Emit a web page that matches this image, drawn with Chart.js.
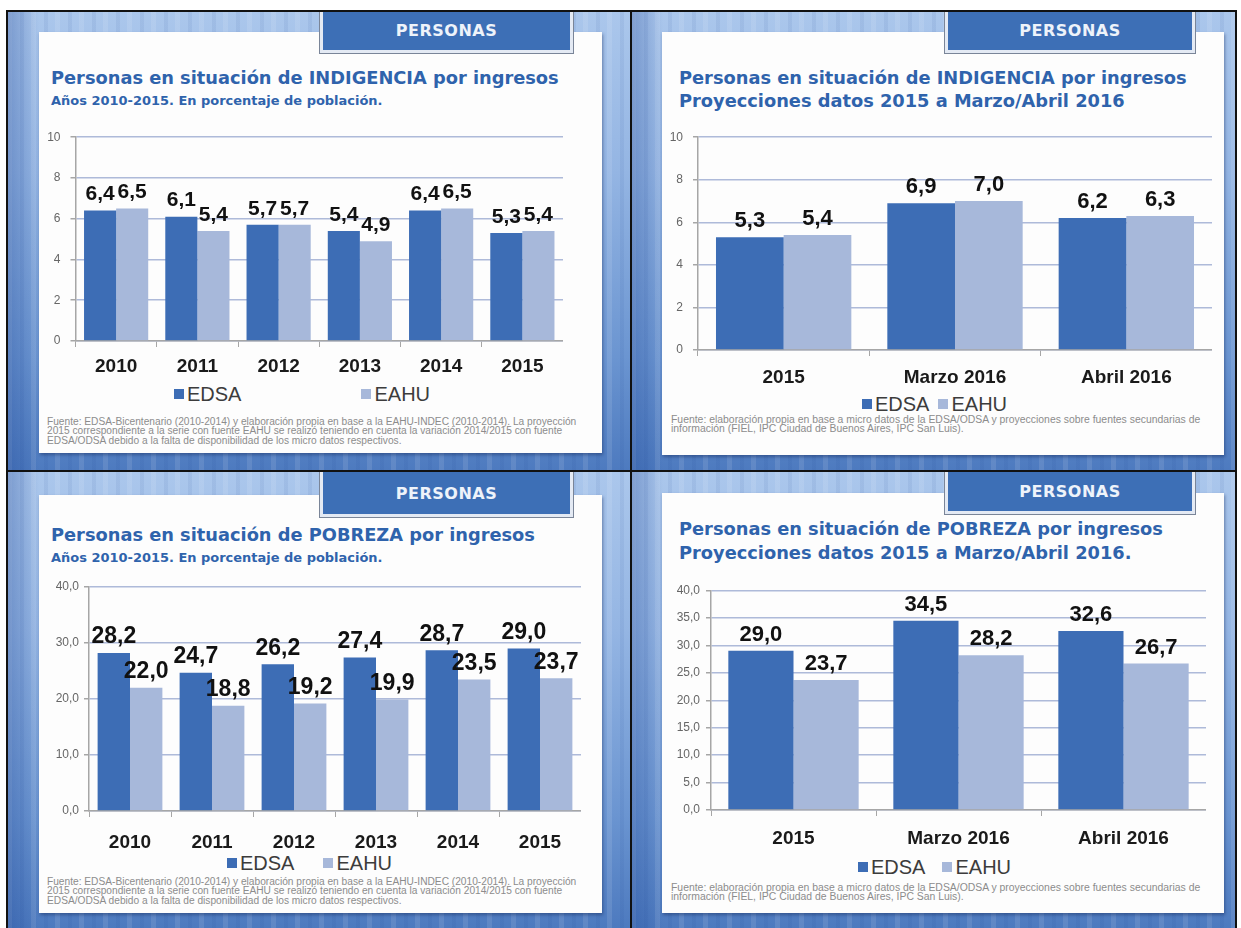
<!DOCTYPE html>
<html>
<head>
<meta charset="utf-8">
<title>Personas en situación de indigencia y pobreza por ingresos</title>
<script src="https://cdn.jsdelivr.net/npm/chart.js"></script>
<style>
    body {
        margin: 0;
        background: #ffffff;
        font-family: 'DejaVu Sans', sans-serif;
    }
    #page {
        position: relative;
        width: 1241px;
        height: 928px;
        overflow: hidden;
    }
    .quad {
        position: absolute;
        background:
            linear-gradient(to right, rgba(30, 70, 150, 0.35) 0, rgba(30, 70, 150, 0) 32px),
            repeating-linear-gradient(to right,
                rgba(255, 255, 255, 0.10) 0 5px,
                rgba(255, 255, 255, 0) 5px 13px,
                rgba(20, 60, 140, 0.07) 13px 17px,
                rgba(255, 255, 255, 0) 17px 24px),
            linear-gradient(to bottom, #abc7ec 0%, #94b5e3 35%, #6b95d1 75%, #4d7abf 100%);
    }
    .line { position: absolute; background: #111; }
    .panel {
        position: absolute;
        background: #fdfdfd;
        box-shadow: 1px 2px 3px rgba(20, 40, 90, 0.45);
    }
    .tab {
        position: absolute;
        box-sizing: border-box;
        background: #3d6fb6;
        border: 3px solid #e4eaf4;
        border-top: none;
        box-shadow: 0 0 0 1px #7a8598;
        color: #eef3fa;
        font-weight: bold;
        font-size: 16px;
        letter-spacing: 0.5px;
        display: flex;
        align-items: center;
        justify-content: center;
    }
    .title, .subtitle {
        position: absolute;
        white-space: nowrap;
        line-height: 1;
        color: #2f63ac;
        font-weight: bold;
        font-size: 18px;
    }
    .source {
        position: absolute;
        white-space: nowrap;
        line-height: 9.3px;
        font-size: 8px;
        font-family: 'Liberation Sans', sans-serif;
        color: #8c8c8c;
    }
    .legend {
        position: absolute;
        display: flex;
        align-items: center;
        font-family: 'Liberation Sans', sans-serif;
        font-size: 20px;
        line-height: 20px;
        color: #3c3c3c;
    }
    .legend .sw { width: 10px; height: 10px; margin-right: 3px; }
    canvas { position: absolute; }
</style>
</head>
<body>
<div id="page">
    <div class="quad" style="left:7px; top:11px; width:624px; height:461px;"></div>
    <div class="quad" style="left:631px; top:11px; width:605px; height:461px;"></div>
    <div class="quad" style="left:7px; top:472px; width:624px; height:456px;"></div>
    <div class="quad" style="left:631px; top:472px; width:605px; height:456px;"></div>

    <div class="panel" style="left:39px; top:32px; width:563px; height:421px;"></div>
    <div class="panel" style="left:662px; top:32px; width:562px; height:423px;"></div>
    <div class="panel" style="left:39px; top:495px; width:563px; height:418px;"></div>
    <div class="panel" style="left:662px; top:493px; width:562px; height:420px;"></div>

    <div class="tab" style="left:320px; top:11px; width:253px; height:42px;">PERSONAS</div>
    <div class="tab" style="left:945px; top:11px; width:250px; height:42px;">PERSONAS</div>
    <div class="tab" style="left:320px; top:472px; width:253px; height:45px;">PERSONAS</div>
    <div class="tab" style="left:945px; top:472px; width:250px; height:42px;">PERSONAS</div>

    <div class="line" style="left:6px; top:10px; width:1231px; height:2px;"></div>
    <div class="line" style="left:6px; top:10px; width:2px; height:918px;"></div>
    <div class="line" style="left:1235px; top:10px; width:2px; height:918px;"></div>
    <div class="line" style="left:630px; top:10px; width:2px; height:918px;"></div>
    <div class="line" style="left:6px; top:470px; width:1231px; height:2px;"></div>

    <!-- textos de cada lámina -->
    <div class="title" id="t1" data-cy="78" style="left:51px;">Personas en situación de INDIGENCIA por ingresos</div>
    <div class="subtitle" id="s1" data-cy="100" style="left:51px; font-size:13px;">Años 2010-2015. En porcentaje de población.</div>
    <div class="title" id="t2" data-cy="78" style="left:679px;">Personas en situación de INDIGENCIA por ingresos</div>
    <div class="subtitle" id="s2" data-cy="101" style="left:679px;">Proyecciones datos 2015 a Marzo/Abril 2016</div>
    <div class="title" id="t3" data-cy="535" style="left:51px;">Personas en situación de POBREZA por ingresos</div>
    <div class="subtitle" id="s3" data-cy="557" style="left:51px; font-size:13px;">Años 2010-2015. En porcentaje de población.</div>
    <div class="title" id="t4" data-cy="529" style="left:679px;">Personas en situación de POBREZA por ingresos</div>
    <div class="subtitle" id="s4" data-cy="553" style="left:679px;">Proyecciones datos 2015 a Marzo/Abril 2016.</div>

    <div class="source" id="f1" style="left:47px; top:417px;">Fuente: EDSA-Bicentenario (2010-2014) y elaboración propia en base a la EAHU-INDEC (2010-2014). La proyección<br>2015 correspondiente a la serie con fuente EAHU se realizó teniendo en cuenta la variación 2014/2015 con fuente<br>EDSA/ODSA debido a la falta de disponibilidad de los micro datos respectivos.</div>
    <div class="source" id="f2" style="left:671px; top:415px;">Fuente: elaboración propia en base a micro datos de la EDSA/ODSA y proyecciones sobre fuentes secundarias de<br>información (FIEL, IPC Ciudad de Buenos Aires, IPC San Luis).</div>
    <div class="source" id="f3" style="left:47px; top:877px;">Fuente: EDSA-Bicentenario (2010-2014) y elaboración propia en base a la EAHU-INDEC (2010-2014). La proyección<br>2015 correspondiente a la serie con fuente EAHU se realizó teniendo en cuenta la variación 2014/2015 con fuente<br>EDSA/ODSA debido a la falta de disponibilidad de los micro datos respectivos.</div>
    <div class="source" id="f4" style="left:671px; top:883px;">Fuente: elaboración propia en base a micro datos de la EDSA/ODSA y proyecciones sobre fuentes secundarias de<br>información (FIEL, IPC Ciudad de Buenos Aires, IPC San Luis).</div>

    <div class="legend" id="l1" data-gap="120" style="left:174px; top:384px;"></div>
    <div class="legend" id="l2" data-gap="9" style="left:862px; top:394px;"></div>
    <div class="legend" id="l3" data-gap="29" style="left:227px; top:853px;"></div>
    <div class="legend" id="l4" data-gap="17" style="left:858px; top:857px;"></div>

    <canvas id="c1" width="523" height="261" style="left:40px; top:120px;"></canvas>
    <canvas id="c2" width="552" height="270" style="left:660px; top:120px;"></canvas>
    <canvas id="c3" width="536" height="279" style="left:45px; top:572px;"></canvas>
    <canvas id="c4" width="530" height="275" style="left:676px; top:575px;"></canvas>
</div>

<script>
    const years = ['2010', '2011', '2012', '2013', '2014', '2015'];
    const periods = ['2015', 'Marzo 2016', 'Abril 2016'];
    const seriesNames = ['EDSA', 'EAHU'];

    const indigenciaEDSA = [6.4, 6.1, 5.7, 5.4, 6.4, 5.3];
    const indigenciaEAHU = [6.5, 5.4, 5.7, 4.9, 6.5, 5.4];
    const indigenciaProyEDSA = [5.3, 6.9, 6.2];
    const indigenciaProyEAHU = [5.4, 7.0, 6.3];

    const pobrezaEDSA = [28.2, 24.7, 26.2, 27.4, 28.7, 29.0];
    const pobrezaEAHU = [22.0, 18.8, 19.2, 19.9, 23.5, 23.7];
    const pobrezaProyEDSA = [29.0, 34.5, 32.6];
    const pobrezaProyEAHU = [23.7, 28.2, 26.7];

    const indigenciaTicks = ['0', '2', '4', '6', '8', '10'];
    const pobrezaTicks = ['0,0', '10,0', '20,0', '30,0', '40,0'];
    const pobrezaProyTicks = ['0,0', '5,0', '10,0', '15,0', '20,0', '25,0', '30,0', '35,0', '40,0'];

    const seriesColors = ['#3d6db5', '#a7b8da'];

    // ajuste del tamaño de los títulos al ancho que tienen en la lámina
    function setSize(el, fs) {
        el.style.fontSize = fs + 'px';
        if (el.dataset.cy) el.style.top = (el.dataset.cy - fs / 2) + 'px';
    }
    function fitText(el, target) {
        const fs = parseFloat(getComputedStyle(el).fontSize);
        const w = el.getBoundingClientRect().width;
        const nfs = fs * target / w;
        setSize(el, nfs);
        return nfs;
    }
    const titleSize = fitText(document.getElementById('t1'), 508);
    ['t2', 't3', 't4', 's2', 's4'].forEach(id => setSize(document.getElementById(id), titleSize));
    const subSize = fitText(document.getElementById('s1'), 332);
    setSize(document.getElementById('s3'), subSize);
    ['f1', 'f2', 'f3', 'f4'].forEach(id => fitText(document.getElementById(id), 530));

    // leyendas
    ['l1', 'l2', 'l3', 'l4'].forEach(id => {
        const box = document.getElementById(id);
        seriesNames.forEach((name, i) => {
            const sw = document.createElement('span');
            sw.className = 'sw';
            sw.style.background = seriesColors[i];
            if (i > 0) sw.style.marginLeft = box.dataset.gap + 'px';
            const txt = document.createElement('span');
            txt.textContent = name;
            box.appendChild(sw);
            box.appendChild(txt);
        });
    });

    function toNumber(label) {
        return parseFloat(label.replace(',', '.'));
    }

    // etiquetas de valor sobre cada barra
    function valueLabels(size, offset) {
        return {
            id: 'valueLabels',
            afterDatasetsDraw(chart) {
                const ctx = chart.ctx;
                ctx.save();
                ctx.font = `bold ${size}px 'Liberation Sans', Arial, sans-serif`;
                ctx.fillStyle = '#111111';
                ctx.textAlign = 'center';
                ctx.textBaseline = 'middle';
                chart.data.datasets.forEach((ds, i) => {
                    chart.getDatasetMeta(i).data.forEach((bar, j) => {
                        ctx.fillText(ds.data[j].toFixed(1).replace('.', ','), bar.x, bar.y - offset);
                    });
                });
                ctx.restore();
            }
        };
    }

    function drawChart(id, labels, edsa, eahu, tickLabels, box) {
        const tickValues = tickLabels.map(toNumber);
        new Chart(document.getElementById(id), {
            type: 'bar',
            data: {
                labels: labels,
                datasets: [
                    { label: seriesNames[0], data: edsa, backgroundColor: seriesColors[0] },
                    { label: seriesNames[1], data: eahu, backgroundColor: seriesColors[1] }
                ]
            },
            options: {
                responsive: false,
                animation: false,
                layout: { padding: { top: box.padTop, left: box.padLeft, right: 0, bottom: 0 } },
                datasets: { bar: { barPercentage: 1, categoryPercentage: 0.79 } },
                plugins: {
                    legend: { display: false },
                    tooltip: { enabled: false }
                },
                scales: {
                    x: {
                        grid: { drawOnChartArea: false, tickLength: 6, color: '#a6a6a6' },
                        border: { color: '#a6a6a6', width: 1.5 },
                        ticks: {
                            padding: box.xPad,
                            color: '#1a1a1a',
                            font: { family: "'Liberation Sans', Arial, sans-serif", weight: 'bold', size: 19 }
                        },
                        afterFit: s => { s.height = 40; }
                    },
                    y: {
                        min: tickValues[0],
                        max: tickValues[tickValues.length - 1],
                        grid: { color: '#aebad9', lineWidth: 1.5, tickLength: 5, tickColor: '#a6a6a6' },
                        border: { color: '#a6a6a6', width: 1.5 },
                        ticks: {
                            stepSize: tickValues[1] - tickValues[0],
                            padding: box.yPad,
                            color: '#666666',
                            font: { family: "'Liberation Sans', Arial, sans-serif", size: 12 },
                            callback: (v, i) => tickLabels[i]
                        },
                        afterFit: s => { s.width = box.yWidth; }
                    }
                }
            },
            plugins: [valueLabels(box.labelSize, 16)]
        });
    }

    drawChart('c1', years, indigenciaEDSA, indigenciaEAHU, indigenciaTicks,
        { padTop: 15, padLeft: 0, yWidth: 35.5, yPad: 10, xPad: 8, labelSize: 21 });
    drawChart('c2', periods, indigenciaProyEDSA, indigenciaProyEAHU, indigenciaTicks,
        { padTop: 15, padLeft: 2.5, yWidth: 35.5, yPad: 10, xPad: 10.5, labelSize: 22 });
    drawChart('c3', years, pobrezaEDSA, pobrezaEAHU, pobrezaTicks,
        { padTop: 15, padLeft: 0, yWidth: 44, yPad: 5, xPad: 14, labelSize: 23 });
    drawChart('c4', periods, pobrezaProyEDSA, pobrezaProyEAHU, pobrezaProyTicks,
        { padTop: 15.5, padLeft: 0, yWidth: 35, yPad: 6, xPad: 11.5, labelSize: 22 });
</script>
</body>
</html>
